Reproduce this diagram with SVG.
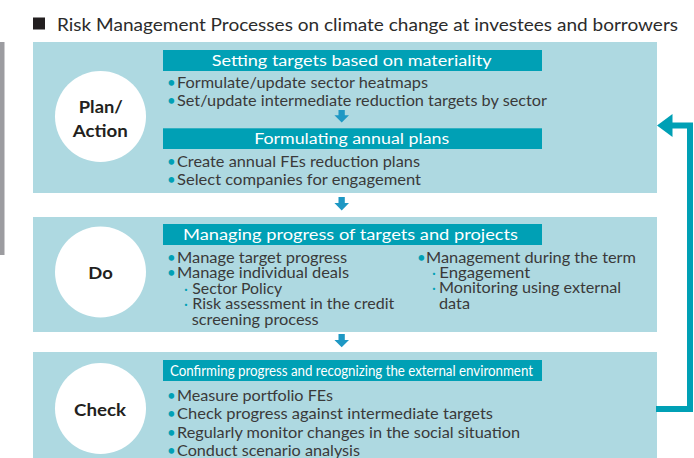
<svg xmlns="http://www.w3.org/2000/svg" width="694" height="458" viewBox="0 0 694 458">
  <style>
    .panel { fill: #AED9E1; }
    .disc { fill: #FFFFFF; }
    .bar { fill: #00A0B5; }
    .stage { font-family: Lato, "Liberation Sans", sans-serif; font-weight: bold; font-size: 17.5px; fill: #231F20; text-anchor: middle; }
    .head { font-family: Lato, "Liberation Sans", sans-serif; font-size: 15.5px; fill: #FFFFFF; text-anchor: middle; }
    .body { font-family: Lato, "Liberation Sans", sans-serif; font-size: 15px; fill: #3A3A3A; }
    .dot { font-family: Lato, "Liberation Sans", sans-serif; font-size: 15px; fill: #00A0B5; }
    .sub { font-family: Lato, "Liberation Sans", sans-serif; font-size: 15px; fill: #00A0B5; }
    .title { font-family: Lato, "Liberation Sans", sans-serif; font-size: 17.5px; fill: #2B2B2B; }
    .step { fill: #1E98C4; }
    .loop { fill: none; stroke: #00A0B5; stroke-width: 6; }
    .loophead { fill: #00A0B5; }
  </style>

  <!-- side rule -->
  <rect x="0" y="42" width="4.5" height="213" fill="#9C9CA0"/>

  <!-- heading -->
  <g id="title">
    <rect x="33" y="17.5" width="12" height="12" fill="#231F20"/>
    <text class="title" x="57" y="31" textLength="621" lengthAdjust="spacingAndGlyphs">Risk Management Processes on climate change at investees and borrowers</text>
  </g>

  <!-- Plan / Action -->
  <g id="plan-action">
    <rect class="panel" x="33" y="42" width="624" height="151"/>
    <circle class="disc" cx="100.5" cy="116.5" r="45.5"/>
    <text class="stage" x="100.8" y="113" textLength="44" lengthAdjust="spacingAndGlyphs">Plan/</text>
    <text class="stage" x="100.2" y="137" textLength="55" lengthAdjust="spacingAndGlyphs">Action</text>

    <rect class="bar" x="163" y="50" width="379" height="21"/>
    <text class="head" x="351.7" y="66" textLength="280" lengthAdjust="spacingAndGlyphs">Setting targets based on materiality</text>
    <text class="dot" x="167" y="88.3">•</text>
    <text class="body" x="177" y="88.3" textLength="251" lengthAdjust="spacingAndGlyphs">Formulate/update sector heatmaps</text>
    <text class="dot" x="167" y="106">•</text>
    <text class="body" x="177" y="106" textLength="370" lengthAdjust="spacingAndGlyphs">Set/update intermediate reduction targets by sector</text>

    <rect class="bar" x="163" y="128.3" width="379" height="20.7"/>
    <text class="head" x="351.7" y="143.5" textLength="195" lengthAdjust="spacingAndGlyphs">Formulating annual plans</text>
    <text class="dot" x="167" y="166.7">•</text>
    <text class="body" x="177" y="166.7" textLength="243" lengthAdjust="spacingAndGlyphs">Create annual FEs reduction plans</text>
    <text class="dot" x="167" y="185">•</text>
    <text class="body" x="177" y="185" textLength="244" lengthAdjust="spacingAndGlyphs">Select companies for engagement</text>
  </g>

  <!-- Do -->
  <g id="do">
    <rect class="panel" x="33" y="217" width="624" height="115"/>
    <circle class="disc" cx="100.5" cy="272" r="45.5"/>
    <text class="stage" x="100.5" y="279" textLength="24.5" lengthAdjust="spacingAndGlyphs">Do</text>

    <rect class="bar" x="163" y="224" width="379" height="21"/>
    <text class="head" x="350.5" y="239.5" textLength="335" lengthAdjust="spacingAndGlyphs">Managing progress of targets and projects</text>

    <text class="dot" x="167" y="262.5">•</text>
    <text class="body" x="177" y="262.5" textLength="170" lengthAdjust="spacingAndGlyphs">Manage target progress</text>
    <text class="dot" x="167" y="278">•</text>
    <text class="body" x="177" y="278" textLength="172" lengthAdjust="spacingAndGlyphs">Manage individual deals</text>
    <text class="sub" x="184" y="293.5">·</text>
    <text class="body" x="192.3" y="293.5" textLength="90" lengthAdjust="spacingAndGlyphs">Sector Policy</text>
    <text class="sub" x="184" y="309">·</text>
    <text class="body" x="192.3" y="309" textLength="202" lengthAdjust="spacingAndGlyphs">Risk assessment in the credit</text>
    <text class="body" x="191.7" y="324.5" textLength="127" lengthAdjust="spacingAndGlyphs">screening process</text>

    <text class="dot" x="417" y="262.5">•</text>
    <text class="body" x="426" y="262.5" textLength="210" lengthAdjust="spacingAndGlyphs">Management during the term</text>
    <text class="sub" x="432" y="277.5">·</text>
    <text class="body" x="439.3" y="277.5" textLength="91" lengthAdjust="spacingAndGlyphs">Engagement</text>
    <text class="sub" x="432" y="293.3">·</text>
    <text class="body" x="439" y="293.3" textLength="182" lengthAdjust="spacingAndGlyphs">Monitoring using external</text>
    <text class="body" x="439" y="309" textLength="31" lengthAdjust="spacingAndGlyphs">data</text>
  </g>

  <!-- Check -->
  <g id="check">
    <rect class="panel" x="33" y="352" width="624" height="106"/>
    <circle class="disc" cx="100.5" cy="408.5" r="45.5"/>
    <text class="stage" x="100" y="416" textLength="52" lengthAdjust="spacingAndGlyphs">Check</text>

    <rect class="bar" x="163" y="360" width="379" height="21"/>
    <text class="head" x="351.5" y="375.7" font-size="14.5" textLength="363" lengthAdjust="spacingAndGlyphs">Confirming progress and recognizing the external environment</text>

    <text class="dot" x="167" y="401">•</text>
    <text class="body" x="177" y="401" textLength="156" lengthAdjust="spacingAndGlyphs">Measure portfolio FEs</text>
    <text class="dot" x="167" y="419.3">•</text>
    <text class="body" x="177" y="419.3" textLength="316" lengthAdjust="spacingAndGlyphs">Check progress against intermediate targets</text>
    <text class="dot" x="167" y="437.7">•</text>
    <text class="body" x="177" y="437.7" textLength="343" lengthAdjust="spacingAndGlyphs">Regularly monitor changes in the social situation</text>
    <text class="dot" x="167" y="456">•</text>
    <text class="body" x="177" y="456" textLength="183" lengthAdjust="spacingAndGlyphs">Conduct scenario analysis</text>
  </g>

  <!-- connectors -->
  <g id="connectors">
    <!-- downward step arrows -->
    <path class="step" d="M338.5 110 H344.8 V115.2 H349 L341.7 122.5 L334.4 115.2 H338.5 Z"/>
    <path class="step" d="M338.5 197 H344.8 V203 H349 L341.7 210.5 L334.4 203 H338.5 Z"/>
    <path class="step" d="M338.5 334 H344.8 V340 H349 L341.7 347.3 L334.4 340 H338.5 Z"/>
    <!-- feedback loop from Check back to Plan/Action -->
    <path class="loop" d="M656 409 H690 V125.5 H671"/>
    <polygon class="loophead" points="657,125.5 672.5,114 672.5,137"/>
  </g>
</svg>
